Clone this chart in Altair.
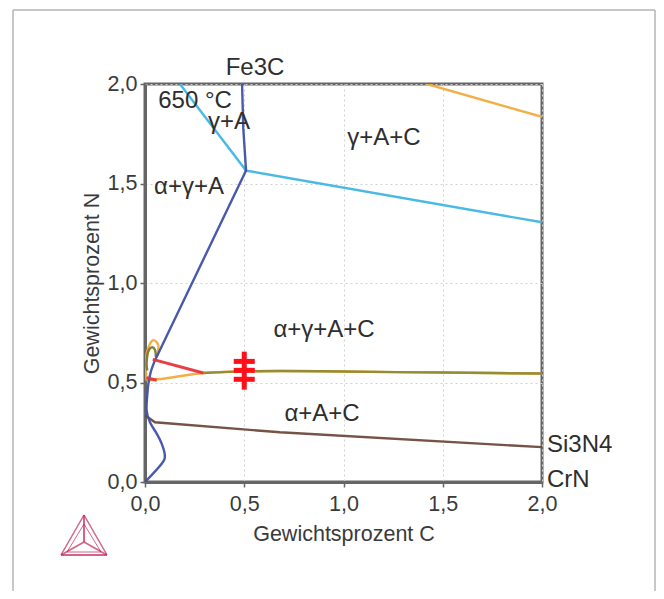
import altair as alt
import pandas as pd

W, H = 397, 398
LEFT, TOP = 145, 84


def px(x):
    return x - LEFT


def py(y):
    return y - TOP


xs = alt.Scale(domain=[0, 2], nice=False, zero=False)
ys = alt.Scale(domain=[0, 2], nice=False, zero=False)

blue_low_x = [0.0, 0.084, 0.10, 0.084, 0.059, 0.025, 0.008, 0.012, 0.017, 0.029, 0.05]
blue_low_y = [0.0, 0.092, 0.134, 0.193, 0.243, 0.30, 0.36, 0.444, 0.494, 0.553, 0.611]
blue_up_x = [0.05, 0.509, 0.495, 0.489]
blue_up_y = [0.611, 1.565, 1.78, 2.0]
cyan1_x = [0.176, 0.509, 2.0]
cyan1_y = [2.0, 1.565, 1.305]
top_orange_x = [1.42, 2.0]
top_orange_y = [2.0, 1.835]
orange_loop_x = [0.059, 0.067, 0.039, 0.012, 0.003, 0.008]
orange_loop_y = [0.628, 0.687, 0.712, 0.66, 0.595, 0.51]
orange_x = [0.008, 0.10, 0.294, 0.504, 0.68, 1.0, 1.5, 2.0]
orange_y = [0.51, 0.52, 0.548, 0.556, 0.558, 0.555, 0.55, 0.545]
olive_x = [0.055, 0.05, 0.033, 0.016, 0.008, 0.012]
olive_y = [0.628, 0.665, 0.677, 0.655, 0.595, 0.56]
olive2_x = [0.294, 0.504, 0.68, 1.0, 1.5, 2.0]
olive2_y = [0.548, 0.556, 0.558, 0.555, 0.55, 0.545]
red1_x = [0.039, 0.294]
red1_y = [0.616, 0.548]
red2_x = [0.008, 0.059]
red2_y = [0.524, 0.511]
brown_x = [0.0, 0.05, 0.68, 2.0]
brown_y = [0.335, 0.30, 0.25, 0.175]

marker_x = [0.5]
marker_ys = [0.606, 0.561, 0.516]
marker_low, marker_high = 0.464, 0.655
marker_half = 0.053


def line(xv, yv, color, w=2.4, interp="linear"):
    d = pd.DataFrame({"x": xv, "y": yv, "o": range(len(xv))})
    return alt.Chart(d).mark_line(color=color, strokeWidth=w, clip=True, opacity=0.95,
                                  interpolate=interp).encode(
        x=alt.X("x:Q", scale=xs, axis=None),
        y=alt.Y("y:Q", scale=ys, axis=None),
        order="o:Q",
    )


axis_common = dict(
    values=[0, 0.5, 1, 1.5, 2],
    labelExpr="replace(format(datum.value, '.1f'), '.', ',')",
    labelFont="Liberation Sans",
    labelFontSize=21.5,
    labelColor="#3a3a3a",
    labelOverlap=False,
    labelBound=False,
    labelFlush=False,
    titleFont="Liberation Sans",
    titleFontSize=21.5,
    titleFontWeight="normal",
    titleColor="#3a3a3a",
    domainColor="#666666",
    domainWidth=3,
    tickColor="#666666",
    tickSize=5,
    tickWidth=1.5,
    grid=True,
    gridColor="#d0d0d0",
    gridDash=[2, 3],
    gridWidth=1,
)

base = alt.Chart(pd.DataFrame({"x": [0.0], "y": [0.0]})).mark_point(opacity=0).encode(
    x=alt.X("x:Q", scale=xs, title="Gewichtsprozent C",
            axis=alt.Axis(titlePadding=9, labelPadding=6, **axis_common)),
    y=alt.Y("y:Q", scale=ys, title="Gewichtsprozent N",
            axis=alt.Axis(titlePadding=4, labelPadding=3, **axis_common)),
)

layers = [base]

# outer frame
frame = [
    (px(13), py(10), px(655), py(10)),
    (px(13), py(10), px(13), py(591)),
    (px(655), py(10), px(655), py(591)),
]
for a, b, c, d in frame:
    layers.append(
        alt.Chart(pd.DataFrame({"k": [1]})).mark_rule(color="#b5b5b5", strokeWidth=1.5).encode(
            x=alt.value(a), y=alt.value(b), x2=alt.value(c), y2=alt.value(d)
        )
    )

layers += [
    line(brown_x, brown_y, "#6e4a3c"),
    line(orange_loop_x, orange_loop_y, "#f0ac3c", interp="cardinal"),
    line(orange_x, orange_y, "#f0ac3c", interp="monotone"),
    line(olive_x, olive_y, "#7f7a2a", interp="cardinal"),
    line(olive2_x, olive2_y, "#8f8a35", interp="monotone"),
    line(top_orange_x, top_orange_y, "#f0ac3c"),
    line(cyan1_x, cyan1_y, "#3fb6e4"),
    line(blue_low_x, blue_low_y, "#3f51a8", interp="cardinal"),
    line(blue_up_x, blue_up_y, "#3f51a8"),
    line(red1_x, red1_y, "#e8343c", 3),
    line(red2_x, red2_y, "#e8343c", 3),
]

# red marker
vm = pd.DataFrame({"x": marker_x, "y": [marker_low], "y2": [marker_high]})
layers.append(
    alt.Chart(vm).mark_rule(color="#ff0f1a", strokeWidth=5).encode(
        x=alt.X("x:Q", scale=xs, axis=None), y=alt.Y("y:Q", scale=ys, axis=None), y2="y2:Q"
    )
)
hm = pd.DataFrame({
    "x": [marker_x[0] - marker_half] * 3,
    "x2": [marker_x[0] + marker_half] * 3,
    "y": marker_ys,
})
layers.append(
    alt.Chart(hm).mark_rule(color="#ff0f1a", strokeWidth=5).encode(
        x=alt.X("x:Q", scale=xs, axis=None), x2="x2:Q", y=alt.Y("y:Q", scale=ys, axis=None)
    )
)

# labels
labels = [
    ("Fe3C", 255, 68, "center"),
    ("650 °C", 195, 101, "center"),
    ("γ+A", 229, 122, "center"),
    ("γ+A+C", 384, 138, "center"),
    ("α+γ+A", 189, 187, "center"),
    ("α+γ+A+C", 324, 330, "center"),
    ("α+A+C", 322, 414, "center"),
    ("Si3N4", 547, 445, "left"),
    ("CrN", 547, 480, "left"),
]
for t, x, y, al in labels:
    layers.append(
        alt.Chart(pd.DataFrame({"t": [t]})).mark_text(
            font="Liberation Sans", fontSize=24, color="#2e2e2e", align=al, baseline="middle"
        ).encode(text="t:N", x=alt.value(px(x)), y=alt.value(py(y)))
    )

# logo
apex, lft, rgt, ctr = (84, 515), (61, 555), (107, 555), (84, 542)
in_l, in_r, in_t = (67, 552), (101, 552), (84, 524)
logo = [
    (apex, lft, 1.5), (apex, rgt, 1.5), (lft, rgt, 2),
    (apex, ctr, 2), (lft, ctr, 1.5), (rgt, ctr, 1.5),
    (in_t, in_l, 1), (in_t, in_r, 1), (in_l, in_r, 1),
]
for a, b, w in logo:
    layers.append(
        alt.Chart(pd.DataFrame({"k": [1]})).mark_rule(color="#c2305f", strokeWidth=w, opacity=0.75).encode(
            x=alt.value(px(a[0])), y=alt.value(py(a[1])),
            x2=alt.value(px(b[0])), y2=alt.value(py(b[1])),
        )
    )

chart = alt.layer(*layers).resolve_axis(x="independent", y="independent").properties(
    width=W,
    height=H,
    padding={"left": LEFT - 8, "top": TOP - 8, "right": 648 - (LEFT - 8) - W, "bottom": 583 - (TOP - 8) - H},
    autosize=alt.AutoSizeParams(type="none"),
    background="white",
).configure_view(stroke="#666666", strokeWidth=3)

chart.save("out.html", embed_options={"renderer": "svg", "actions": False})
